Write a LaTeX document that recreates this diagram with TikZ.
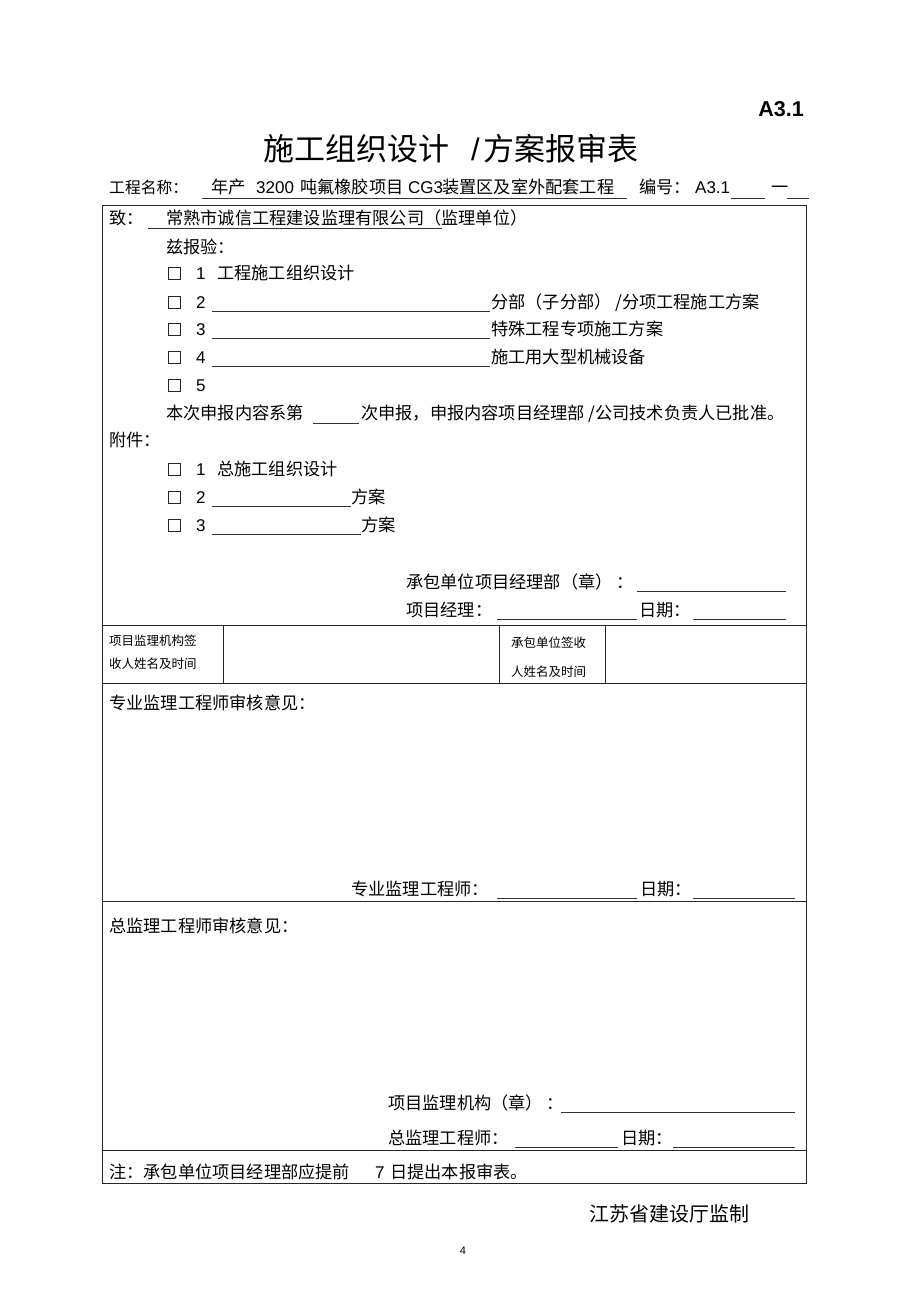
\documentclass[tikz,border=0pt]{standalone}
\usepackage{fontspec}
\setmainfont{Noto Sans CJK SC}
\newfontfamily\latin{Liberation Sans}
\begin{document}
\begin{tikzpicture}[x=1pt,y=-1pt,
  txt/.style={anchor=base west, inner sep=0pt, font=\fontsize{17.2}{18}\selectfont},
  lat/.style={anchor=base west, inner sep=0pt, font=\latin\fontsize{17}{18}\selectfont},
  small/.style={anchor=base west, inner sep=0pt, font=\fontsize{12.5}{14}\selectfont},
  uline/.style={line width=0.8pt, draw=black!80},
  frame/.style={line width=0.9pt, draw=black!85},
  cbox/.style={draw=black!85, line width=0.6pt, minimum size=12pt, inner sep=0pt},
]
\useasboundingbox[fill=white] (0,0) rectangle (920,1304);

% heading
\node[anchor=base east, inner sep=0pt, font=\latin\bfseries\fontsize{21.5}{22}\selectfont] (code) at (804,116) {A3.1};
\node[anchor=base west, inner sep=0pt, font=\fontsize{31}{32}\selectfont] (title) at (263,160) {施工组织设计\hspace{22pt}{\latin /}\hspace{4pt}方案报审表};

% project line
\node[txt, font=\fontsize{15.8}{17}\selectfont] (pn) at (109,193) {工程名称：};
\node[txt] (pn1) at (211,193) {年产};
\node[lat] (pn2) at (256,193) {3200};
\node[txt] (pn3) at (300,193) {吨氟橡胶项目};
\node[lat] (pn4) at (408,193) {CG3};
\node[txt] (pn5) at (442,193) {装置区及室外配套工程};
\draw[uline] (202,198) -- (627,198);
\node[txt] (no) at (639,193) {编号：};
\node[lat] (no1) at (695,193) {A3.1};
\draw[uline] (731,198) -- (765,198);
\node[txt] (dash) at (771,193) {一};
\draw[uline] (787,198) -- (809,198);

% table frame
\draw[frame] (102,205) rectangle (806,1183);
\draw[frame] (102,625) -- (806,625);
\draw[frame] (102,683) -- (806,683);
\draw[frame] (102,901) -- (806,901);
\draw[frame] (102,1150) -- (806,1150);
\draw[frame] (223,625) -- (223,683);
\draw[frame] (499,625) -- (499,683);
\draw[frame] (605,625) -- (605,683);

% to
\node[txt] (to) at (109,224) {致：};
\node[txt] (to1) at (166,224) {常熟市诚信工程建设监理有限公司（监理单位）};
\draw[uline] (148,228) -- (442,228);
\node[txt] (zb) at (166,253) {兹报验：};

% items
\node[cbox] (b1) at (174.5,273) {};
\node[lat] (n1) at (196,279) {1};
\node[txt] (i1) at (217,279) {工程施工组织设计};

\node[cbox] (b2) at (174.5,302) {};
\node[lat] (n2) at (196,308) {2};
\draw[uline] (212,311) -- (490,311);
\node[txt] (i2) at (491,308) {分部（子分部） /分项工程施工方案};

\node[cbox] (b3) at (174.5,329) {};
\node[lat] (n3) at (196,335) {3};
\draw[uline] (212,338) -- (490,338);
\node[txt] (i3) at (491,335) {特殊工程专项施工方案};

\node[cbox] (b4) at (174.5,357) {};
\node[lat] (n4) at (196,363) {4};
\draw[uline] (212,366) -- (490,366);
\node[txt] (i4) at (491,363) {施工用大型机械设备};

\node[cbox] (b5) at (174.5,385) {};
\node[lat] (n5) at (196,391) {5};

\node[txt] (sb1) at (166,419) {本次申报内容系第};
\draw[uline] (313,423) -- (359,423);
\node[txt] (sb2) at (361,419) {次申报，申报内容项目经理部 /公司技术负责人已批准。};

% attachments
\node[txt] (fj) at (109,446) {附件：};
\node[cbox] (a1) at (174.5,469) {};
\node[lat] (m1) at (196,475) {1};
\node[txt] (j1) at (217,475) {总施工组织设计};
\node[cbox] (a2) at (174.5,497) {};
\node[lat] (m2) at (196,503) {2};
\draw[uline] (212,506) -- (351,506);
\node[txt] (j2) at (351,503) {方案};
\node[cbox] (a3) at (174.5,525) {};
\node[lat] (m3) at (196,531) {3};
\draw[uline] (212,534) -- (361,534);
\node[txt] (j3) at (361,531) {方案};

% contractor signature
\node[txt] (cb) at (406,588) {承包单位项目经理部（章） ：};
\draw[uline] (637,591) -- (786,591);
\node[txt] (pm) at (406,616) {项目经理：};
\draw[uline] (497,619) -- (637,619);
\node[txt] (d1) at (639,616) {日期：};
\draw[uline] (693,619) -- (786,619);

% receipt row
\node[small] (r1) at (109,645) {项目监理机构签};
\node[small] (r2) at (109,668) {收人姓名及时间};
\node[small] (r3) at (511,647) {承包单位签收};
\node[small] (r4) at (511,676) {人姓名及时间};

% specialist
\node[txt] (sp) at (109,709) {专业监理工程师审核意见：};
\node[txt] (sp1) at (351,895) {专业监理工程师：};
\draw[uline] (497,898) -- (637,898);
\node[txt] (d2) at (640,895) {日期：};
\draw[uline] (693,898) -- (795,898);

% chief
\node[txt] (ch) at (109,932) {总监理工程师审核意见：};
\node[txt] (ch1) at (388,1109) {项目监理机构（章） ：};
\draw[uline] (561,1112) -- (795,1112);
\node[txt] (ch2) at (388,1144) {总监理工程师：};
\draw[uline] (515,1147) -- (618,1147);
\node[txt] (d3) at (621,1144) {日期：};
\draw[uline] (673,1147) -- (795,1147);

% note
\node[txt] (nt) at (109,1178) {注：承包单位项目经理部应提前};
\node[lat] (nt2) at (375,1178) {7};
\node[txt] (nt3) at (390,1178) {日提出本报审表。};

% footer
\node[anchor=base west, inner sep=0pt, font=\fontsize{20}{22}\selectfont] (ft) at (589,1221) {江苏省建设厅监制};
\node[anchor=base, inner sep=0pt, font=\latin\fontsize{11}{12}\selectfont] (pg) at (463,1254) {4};
\end{tikzpicture}
\end{document}
